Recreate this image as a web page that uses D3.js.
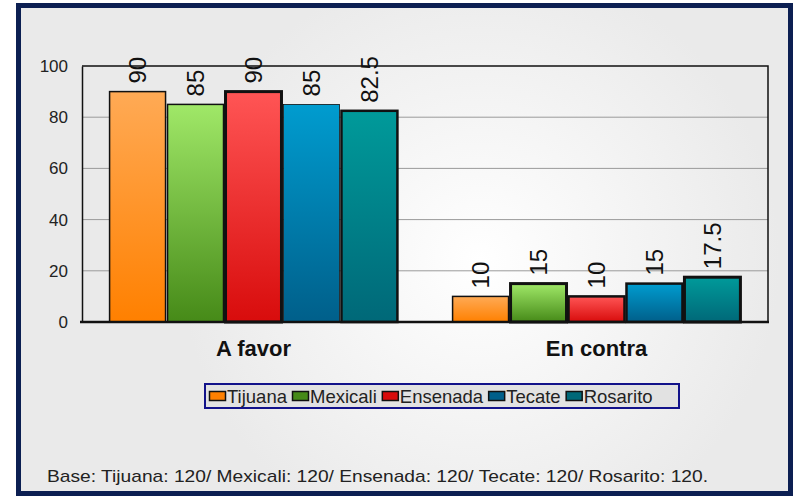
<!DOCTYPE html>
<html>
<head>
<meta charset="utf-8">
<script src="https://cdn.jsdelivr.net/npm/d3@7.9.0/dist/d3.min.js"></script>
<style>
  body { margin: 0; background: #fff; }
  svg { display: block; font-family: "Liberation Sans", Arial, sans-serif; }
</style>
</head>
<body>
<svg id="chart" width="794" height="496"></svg>
<script>
// data
const categories = ['A favor', 'En contra'];
const cities = ['Tijuana', 'Mexicali', 'Ensenada', 'Tecate', 'Rosarito'];
const tijuana = [90, 10];
const mexicali = [85, 15];
const ensenada = [90, 10];
const tecate = [85, 15];
const rosarito = [82.5, 17.5];
const yTicks = [0, 20, 40, 60, 80, 100];
const footNote = 'Base: Tijuana: 120/ Mexicali: 120/ Ensenada: 120/ Tecate: 120/ Rosarito: 120.';

const seriesValues = [tijuana, mexicali, ensenada, tecate, rosarito];

// look of each series (top colour, bottom colour)
const grads = [
  ['#ffaa55', '#ff8000'],
  ['#a0e868', '#468a18'],
  ['#ff5555', '#d80c0c'],
  ['#009ccf', '#005f8a'],
  ['#009a9a', '#006878']
];
// outline widths per category, per city (the original is uneven)
const strokeW = [[1.5, 1.5, 3, 0.8, 2.5], [1.5, 3, 2.5, 2.5, 3]];

const svg = d3.select('#chart');
const defs = svg.append('defs');

const bg = defs.append('radialGradient').attr('id', 'bg')
  .attr('gradientUnits', 'userSpaceOnUse')
  .attr('cx', 480).attr('cy', 260).attr('r', 300);
bg.append('stop').attr('offset', 0).attr('stop-color', '#ffffff');
bg.append('stop').attr('offset', 1).attr('stop-color', '#eaeaea');

grads.forEach((g, i) => {
  const lg = defs.append('linearGradient').attr('id', 'g' + i)
    .attr('x1', 0).attr('y1', 0).attr('x2', 0).attr('y2', 1);
  lg.append('stop').attr('offset', 0).attr('stop-color', g[0]);
  lg.append('stop').attr('offset', 1).attr('stop-color', g[1]);
});

// frame
svg.append('rect').attr('x', 18.5).attr('y', 5.5).attr('width', 772).attr('height', 488)
  .attr('fill', 'url(#bg)').attr('stroke', '#0c1f52').attr('stroke-width', 5);

const pLeft = 82, pRight = 768, pTop = 66, pBottom = 322;

const x0 = d3.scaleBand().domain(categories).range([pLeft, pRight])
  .paddingInner(0.155).paddingOuter(0.0775);
const x1 = d3.scaleBand().domain(cities).range([0, x0.bandwidth()]).padding(0);
const y = d3.scaleLinear().domain([0, 100]).range([pBottom, pTop]);

// grid
svg.append('g').selectAll('line').data(yTicks.filter(t => t > 0 && t < 100)).join('line')
  .attr('x1', pLeft).attr('x2', pRight)
  .attr('y1', d => y(d)).attr('y2', d => y(d))
  .attr('stroke', '#9a9a9a').attr('stroke-width', 1);

// plot border top / right
svg.append('path')
  .attr('d', `M${pLeft},${pTop}H${pRight}V${pBottom}`)
  .attr('fill', 'none').attr('stroke', '#111').attr('stroke-width', 1.5);

// y axis
const yAxis = svg.append('g').attr('transform', `translate(${pLeft},0)`)
  .call(d3.axisLeft(y).tickValues(yTicks).tickSize(0).tickPadding(14));
yAxis.select('.domain').attr('stroke', '#111').attr('stroke-width', 1.5);
yAxis.selectAll('text').attr('font-size', 17).attr('fill', '#222')
  .attr('font-family', '"Liberation Sans", Arial, sans-serif');

// bars
const groups = svg.append('g').selectAll('g').data(categories).join('g')
  .attr('transform', d => `translate(${x0(d)},0)`);

groups.each(function (cat, ci) {
  const g = d3.select(this);
  const rows = cities.map((c, si) => ({ c, si, v: seriesValues[si][ci] }));
  g.selectAll('rect').data(rows).join('rect')
    .attr('x', d => x1(d.c) + 1)
    .attr('y', d => y(d.v))
    .attr('width', x1.bandwidth() - 2)
    .attr('height', d => y(0) - y(d.v))
    .attr('fill', d => `url(#g${d.si})`)
    .attr('stroke', '#111')
    .attr('stroke-width', d => strokeW[ci][d.si]);
  g.selectAll('text').data(rows).join('text')
    .attr('transform', d => `translate(${x1(d.c) + x1.bandwidth() / 2 + 8.5},${y(d.v) - 8}) rotate(-90)`)
    .attr('font-size', 24).attr('fill', '#111')
    .text(d => d.v);
});

// x axis
svg.append('line').attr('x1', pLeft - 2).attr('x2', pRight + 1)
  .attr('y1', pBottom).attr('y2', pBottom)
  .attr('stroke', '#111').attr('stroke-width', 2.5);

svg.append('g').selectAll('text').data(categories).join('text')
  .attr('x', d => x0(d) + x0.bandwidth() / 2)
  .attr('y', 356)
  .attr('text-anchor', 'middle')
  .attr('font-size', 22).attr('font-weight', 'bold').attr('fill', '#111')
  .text(d => d);

// legend
const legend = svg.append('g');
legend.append('rect').attr('x', 205).attr('y', 384).attr('width', 474).attr('height', 24)
  .attr('fill', '#e2e2e2').attr('stroke', '#12128a').attr('stroke-width', 2);
let lx = 209;
cities.forEach((c, i) => {
  legend.append('rect').attr('x', lx + 0.5).attr('y', 391.5).attr('width', 16).attr('height', 9)
    .attr('fill', grads[i][1]).attr('stroke', '#111').attr('stroke-width', 1.5);
  const t = legend.append('text').attr('x', lx + 18).attr('y', 403)
    .attr('font-size', 18.5).attr('fill', '#222').text(c);
  lx += 18 + t.node().getComputedTextLength() + 5;
});

// footnote
svg.append('text').attr('x', 47).attr('y', 482)
  .attr('font-size', 17).attr('fill', '#222')
  .attr('textLength', 661).attr('lengthAdjust', 'spacingAndGlyphs')
  .text(footNote);
</script>
</body>
</html>
